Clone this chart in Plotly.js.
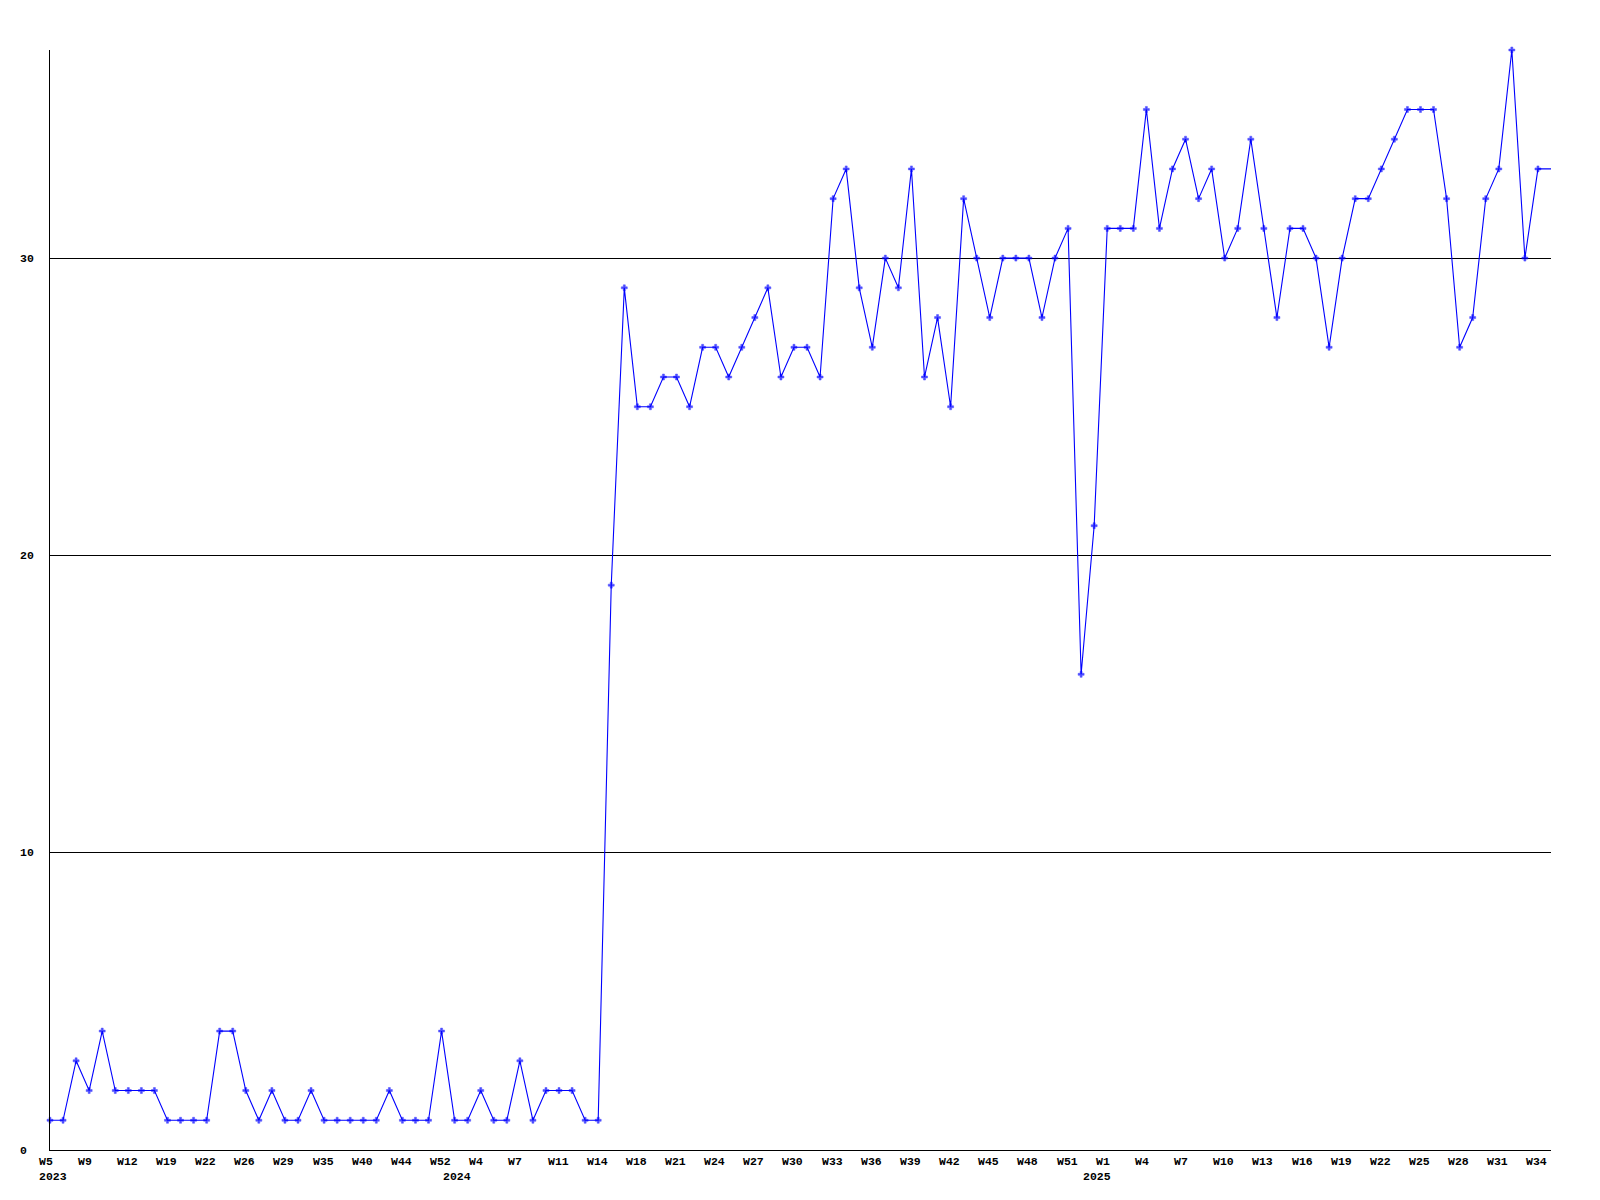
<!DOCTYPE html>
<html>
<head>
<meta charset="utf-8">
<script src="https://cdn.plot.ly/plotly-3.0.1.min.js"></script>
<style>
html,body{margin:0;padding:0;background:#fff;}
#chart{width:1600px;height:1200px;}
</style>
</head>
<body>
<div id="chart"></div>
<script>
// Weekly values, one per point (consecutive categories, left to right)
const values = [
  1,1,3,2,4,2,2,2,2,1,1,1,1,4,4,2,1,2,1,1,2,1,1,1,1,1,2,1,1,1,4,1,1,2,1,1,3,1,2,2,2,1,1,
  19,29,25,25,26,26,25,27,27,26,27,28,29,26,27,27,26,32,33,29,27,30,29,33,26,28,25,32,30,28,30,30,30,28,30,31,16,21,
  31,31,31,35,31,33,34,32,33,30,31,34,31,28,31,31,30,27,30,32,32,33,34,35,35,35,32,27,28,32,33,37,30,33,33
];
// Week tick labels and the point index each one sits at
const tickIdx = [0,3,6,9,12,15,18,21,24,27,30,33,36,39,42,45,48,51,54,57,60,63,66,69,72,75,78,81,84,87,90,93,96,99,102,105,108,111,114];
const tickText = ["W5","W9","W12","W19","W22","W26","W29","W35","W40","W44","W52",
  "W4","W7","W11","W14","W18","W21","W24","W27","W30","W33","W36","W39","W42","W45","W48","W51",
  "W1","W4","W7","W10","W13","W16","W19","W22","W25","W28","W31","W34"];
// Year labels and their point index
const yearIdx = [0,31,80];
const yearText = ["2023","2024","2025"];
// Y axis ticks
const yTicks = [0,10,20,30];

const xs = values.map((v,i)=>i);
const lastIdx = values.length - 1;
const markerSizes = values.map((v,i)=> i===lastIdx ? 0 : 5);

const labelFont = {family:'"Liberation Mono","DejaVu Sans Mono",monospace', size:11.5, color:'#000', weight:'bold'};

const annotations = [];
tickIdx.forEach((ix,k)=>{
  annotations.push({x:ix, xref:'x', y:0, yref:'paper', text:tickText[k], showarrow:false,
    xanchor:'left', yanchor:'middle', xshift:-11.5, yshift:-11, font:labelFont, borderpad:0, borderwidth:0});
});
yearIdx.forEach((ix,k)=>{
  annotations.push({x:ix, xref:'x', y:0, yref:'paper', text:yearText[k], showarrow:false,
    xanchor:'left', yanchor:'middle', xshift:-11.5, yshift:-26.5, font:labelFont, borderpad:0, borderwidth:0});
});
yTicks.forEach(v=>{
  annotations.push({x:0, xref:'paper', y:v, yref:'y', text:String(v), showarrow:false,
    xanchor:'left', yanchor:'middle', xshift:-30, font:labelFont, borderpad:0, borderwidth:0});
});

const trace = {
  x: xs, y: values, type:'scatter', mode:'lines+markers',
  line:{color:'#0000ff', width:1.1},
  marker:{symbol:'cross', size:markerSizes, color:'#0000ff', line:{width:0.5, color:'#0000ff'}},
  cliponaxis:false,
  hoverinfo:'none'
};

const layout = {
  width:1600, height:1200,
  margin:{l:50, r:49, t:50, b:50, pad:0},
  paper_bgcolor:'#fff', plot_bgcolor:'#fff',
  showlegend:false,
  xaxis:{range:[0,lastIdx], showgrid:false, zeroline:false, showticklabels:false, ticks:'',
    showline:true, linecolor:'#000', linewidth:1, fixedrange:true},
  yaxis:{range:[0,37], tickvals:yTicks, showticklabels:false, ticks:'', showgrid:true, gridcolor:'#000', gridwidth:1,
    zeroline:false, showline:true, linecolor:'#000', linewidth:1, fixedrange:true},
  annotations: annotations
};

Plotly.newPlot('chart', [trace], layout, {staticPlot:true, displayModeBar:false});
</script>
</body>
</html>
